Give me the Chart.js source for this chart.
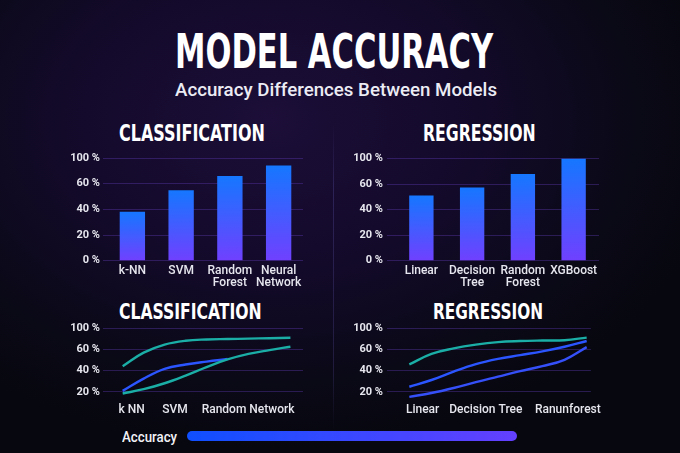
<!DOCTYPE html>
<html>
<head>
<meta charset="utf-8">
<script src="https://cdn.jsdelivr.net/npm/chart.js@4.4.0/dist/chart.umd.min.js"></script>
<style>
  html, body { margin: 0; padding: 0; }
  body {
    width: 680px; height: 453px; overflow: hidden; position: relative;
    background: radial-gradient(ellipse 460px 330px at 270px 120px, #1c0e38 0%, #130a2a 45%, #0a0916 80%, #07070f 100%);
    font-family: Roboto, sans-serif; color: #fff;
  }
  .t { position: absolute; white-space: nowrap; transform-origin: 0 0; line-height: 1; }
  .head { font-family: "DejaVu Sans Condensed", "DejaVu Sans", sans-serif; font-weight: bold; color: #fff; }
  canvas { position: absolute; }
  #divider { position: absolute; left: 333px; top: 125px; width: 1px; height: 305px;
    background: linear-gradient(to bottom, rgba(70,60,130,0), rgba(70,60,130,0.45) 20%, rgba(70,60,130,0.35) 80%, rgba(70,60,130,0)); }
  #scale { position: absolute; left: 187px; top: 431px; width: 330px; height: 10px; border-radius: 5px;
    background: linear-gradient(to right, #0f4fff, #6440ff); }
</style>
</head>
<body>
<div class="t head" data-x="175" data-w="318" style="top:27px;font-size:48px">MODEL ACCURACY</div>
<div class="t" data-x="175" data-w="322" style="top:81px;font-size:18px;font-weight:500;color:#ececf4">Accuracy Differences Between Models</div>
<div class="t head" data-x="119" data-w="146" style="top:122px;font-size:23px">CLASSIFICATION</div>
<div class="t head" data-x="423" data-w="113" style="top:122px;font-size:23px">REGRESSION</div>
<div class="t head" data-x="119" data-w="143" style="top:301px;font-size:22px">CLASSIFICATION</div>
<div class="t head" data-x="433" data-w="110" style="top:301px;font-size:22px">REGRESSION</div>
<div class="t" data-x="122" data-w="55" style="top:430px;font-size:14px;font-weight:500;color:#f2f2f6">Accuracy</div>
<div id="divider"></div>
<div id="scale"></div>

<canvas id="barCls" width="270" height="145" style="left:40px;top:148px"></canvas>
<canvas id="barReg" width="280" height="145" style="left:330px;top:148px"></canvas>
<canvas id="lineCls" width="270" height="102" style="left:40px;top:318px"></canvas>
<canvas id="lineReg" width="280" height="102" style="left:330px;top:318px"></canvas>

<script>
// bar charts (values on the 0-100 position scale of the axis)
const barClsLabels = [['k-NN'], ['SVM'], ['Random', 'Forest'], ['Neural', 'Network']];
const barClsValues = [47.6, 68.6, 82.5, 92.6];
const barRegLabels = [['Linear'], ['Decision', 'Tree'], ['Random', 'Forest'], ['XGBoost']];
const barRegValues = [63.8, 71.8, 84.8, 100];
const barTickPos = [0, 25, 50, 75, 100];
const barTickLabels = ['0 %', '20 %', '40 %', '60 %', '100 %'];

// line charts
const lineX = [0, 1, 2, 3, 4, 5, 6, 7, 8];
const clsTop = [55, 71, 80.5, 85, 86.5, 87, 87.5, 88, 88.5];
const clsMid = [26, 40.5, 52, 57, 60.5, 63.5];
const clsLow = [23, 28, 35, 44, 54, 63, 69.5, 74, 78];
const clsTickPos = [0.43, 2.5, 5.98];
const clsTickLabels = ['k NN', 'SVM', 'Random Network'];

const regTop = [57.5, 70, 76.5, 81, 84, 85.2, 85.8, 86.2, 89.3];
const regMid = [31, 39, 49, 57.8, 64, 68.5, 73, 78.5, 85.3];
const regLow = [19, 23.5, 29.5, 36.5, 43, 49.5, 55.5, 63, 78];
const regTickPos = [0.6, 3.45, 7.15];
const regTickLabels = ['Linear', 'Decision Tree', 'Ranunforest'];

const lineTickPos = [25, 50, 75, 100];
const lineTickLabels = ['20 %', '40 %', '60 %', '100 %'];

const teal = '#1aaea6';
const blue = '#2b55ff';
const gridColor = 'rgba(88,56,170,0.42)';
const tickColor = '#e6e6ee';

// fit headings to their width in the picture
function fitText() {
  document.querySelectorAll('.t').forEach(el => {
    el.style.transform = 'none';
    el.style.left = el.dataset.x + 'px';
    const k = parseFloat(el.dataset.w) / el.offsetWidth;
    el.style.transform = 'scaleX(' + k + ')';
  });
}
fitText();
if (document.fonts) document.fonts.ready.then(fitText);

function barFill(ctx) {
  const chart = ctx.chart;
  if (!chart.chartArea || ctx.type !== 'data') return '#1577ff';
  const y = chart.scales.y;
  const top = y.getPixelForValue(ctx.raw);
  const bottom = y.getPixelForValue(0);
  const g = chart.ctx.createLinearGradient(0, top, 0, bottom);
  g.addColorStop(0, '#1577ff');
  g.addColorStop(1, '#7040ff');
  return g;
}

function yAxis(pos, labels, min, o) {
  return {
    min: min, max: 100,
    border: { display: false },
    grid: { color: gridColor, lineWidth: 1, drawTicks: true, tickLength: o.tl },
    afterBuildTicks: s => { s.ticks = pos.map(v => ({ value: v })); },
    ticks: {
      callback: (v, i) => labels[i],
      color: tickColor, padding: o.tp,
      font: { family: 'Roboto', size: 11, weight: 'bold' }
    },
    afterFit: s => { s.width = o.yw; }
  };
}

function barChart(id, labels, values, o) {
  new Chart(document.getElementById(id), {
    type: 'bar',
    data: {
      labels: labels,
      datasets: [{
        data: values,
        backgroundColor: barFill,
        borderWidth: 0,
        categoryPercentage: o.cat,
        barPercentage: 1
      }]
    },
    options: {
      responsive: false,
      animation: false,
      layout: { padding: { top: 10, right: o.right, left: 0, bottom: 0 } },
      plugins: { legend: { display: false }, tooltip: { enabled: false } },
      scales: {
        x: {
          border: { display: false },
          grid: { display: false, drawTicks: false },
          ticks: {
            color: tickColor, padding: 5, maxRotation: 0, autoSkip: false,
            font: { family: 'Roboto', size: 12, weight: 500, lineHeight: 0.95 }
          },
          afterFit: s => { s.height = 32.3; }
        },
        y: yAxis(barTickPos, barTickLabels, 0, o)
      }
    }
  });
}

function lineChart(id, series, tickPos, tickLabels, o) {
  new Chart(document.getElementById(id), {
    type: 'line',
    data: {
      datasets: series.map(s => ({
        data: s.y.map((v, i) => ({ x: lineX[i], y: v })),
        borderColor: s.color,
        borderWidth: 2.4,
        pointRadius: 0,
        fill: false,
        tension: 0.4,
        clip: 6
      }))
    },
    options: {
      responsive: false,
      animation: false,
      layout: { padding: { top: 10, right: o.right, left: 0, bottom: 0 } },
      plugins: { legend: { display: false }, tooltip: { enabled: false } },
      scales: {
        x: {
          type: 'linear', min: o.xmin, max: o.xmax,
          border: { display: false },
          grid: { display: false, drawTicks: false },
          afterBuildTicks: s => { s.ticks = tickPos.map(v => ({ value: v })); },
          ticks: {
            callback: (v, i) => tickLabels[i],
            color: tickColor, padding: 7, maxRotation: 0, autoSkip: false,
            font: { family: 'Roboto', size: 12, weight: 500 }
          },
          afterFit: s => { s.height = 24; }
        },
        y: yAxis(lineTickPos, lineTickLabels, 20, o)
      }
    }
  });
}

barChart('barCls', barClsLabels, barClsValues, { cat: 0.52, right: 7, yw: 68, tl: 5, tp: 3 });
barChart('barReg', barRegLabels, barRegValues, { cat: 0.48, right: 11, yw: 66, tl: 9, tp: 4 });

lineChart('lineCls', [
  { y: clsTop, color: teal },
  { y: clsLow, color: teal },
  { y: clsMid, color: blue }
], clsTickPos, clsTickLabels, { right: 7, yw: 68, tl: 5, tp: 3, xmin: -0.7, xmax: 8.6 });

lineChart('lineReg', [
  { y: regTop, color: teal },
  { y: regMid, color: blue },
  { y: regLow, color: '#3550f8' }
], regTickPos, regTickLabels, { right: 19, yw: 66, tl: 9, tp: 4, xmin: -0.6, xmax: 8.19 });
</script>
</body>
</html>
